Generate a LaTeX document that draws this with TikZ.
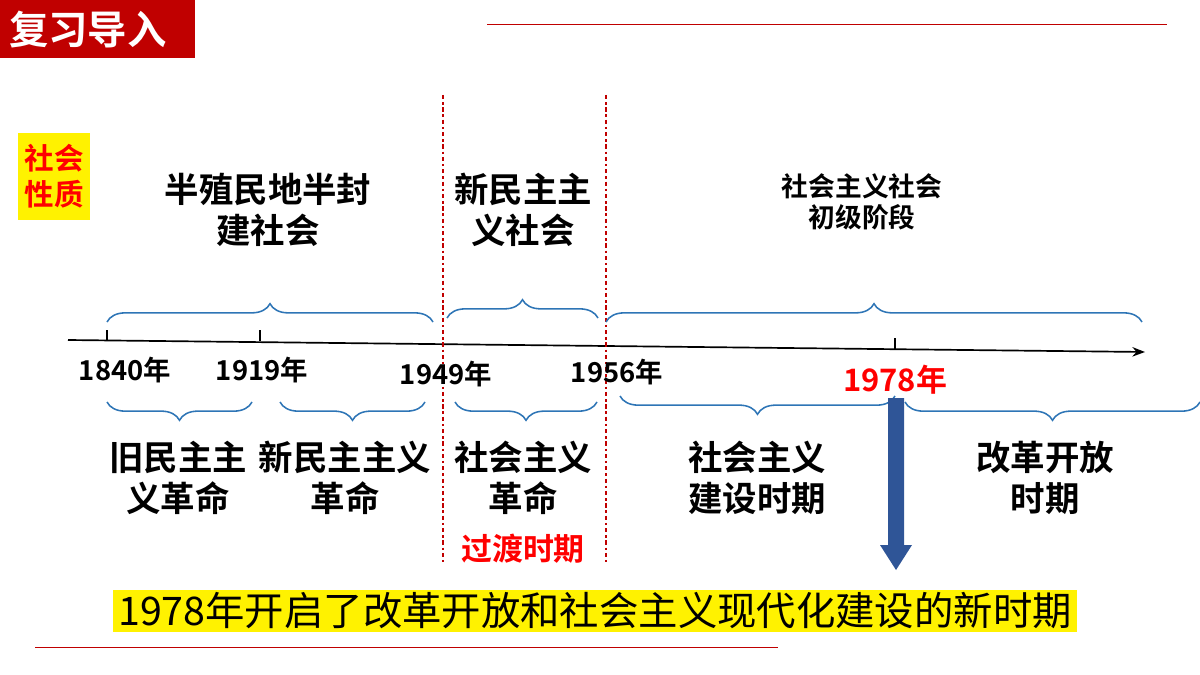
\documentclass[tikz,border=0pt]{standalone}
\usepackage{fontspec}
\setmainfont{Liberation Sans}
\newfontfamily\cjk{Noto Sans CJK SC Bold}
\newfontfamily\cjkreg{Noto Sans CJK SC}
\usetikzlibrary{decorations.pathreplacing,arrows.meta}
\definecolor{titlered}{HTML}{C00000}
\definecolor{bracecol}{HTML}{2E75B6}
\definecolor{arrowblue}{HTML}{2F5597}
\tikzset{
  big/.style={font=\cjk\fontsize{24.5}{29}\selectfont, align=center},
  mid/.style={font=\cjk\fontsize{19}{22}\selectfont, align=center},
  yearlab/.style={font=\cjk\fontsize{19.5}{22}\selectfont},
  upbrace/.style={draw=bracecol, line width=1.1pt, decorate, decoration={brace, amplitude=13pt}},
  downbrace/.style={draw=bracecol, line width=1.1pt, decorate, decoration={brace, mirror, amplitude=13pt}},
  divider/.style={draw=titlered, line width=1.8pt, dash dot}
}
\begin{document}
\begin{tikzpicture}[x=0.025cm, y=-0.025cm]
\useasboundingbox (0,0) rectangle (1200,675);
% title bar
\fill[titlered] (0,0) rectangle (195,58);
\node[font=\cjk\fontsize{28}{32}\selectfont, text=white] (title) at (88,30) {复习导入};
\draw[titlered, line width=0.6pt] (487,24) -- (1167,24);
\draw[titlered, line width=0.6pt] (35,647) -- (778,647);
% side label
\fill[yellow] (18,133) rectangle (90,220);
\node[font=\cjk\fontsize{21}{26}\selectfont, align=center, text=red] (nature) at (54,176) {社会\\性质};
% axis
\coordinate (a0) at (68,340);
\coordinate (a1) at (1145,352);
\draw[line width=1.2pt, -{Stealth[length=9pt]}] (a0) -- (a1);
\foreach \x/\y in {107/330, 260/330, 895/338}
  \draw[line width=1.2pt] (\x,\y) -- (\x,\y+11);
% dividers
\draw[divider] (443,95) -- (443,565);
\draw[divider] (606,95) -- (606,565);
% years
\node[yearlab] (y1840) at (125,370) {1840年};
\node[yearlab] (y1919) at (262,370) {1919年};
\node[yearlab] (y1949) at (446,374) {1949年};
\node[yearlab] (y1956) at (617,372) {1956年};
\node[yearlab, text=red, font=\cjk\fontsize{22}{25}\selectfont] (y1978) at (895,380) {1978年};
% braces above
\draw[upbrace] (107,322) -- (433,322);
\draw[upbrace] (447,318) -- (598,318);
\draw[upbrace] (606,322) -- (1142,322);
% braces below
\draw[downbrace] (107,402) -- (252,402);
\draw[downbrace] (280,402) -- (425,402);
\draw[downbrace] (455,402) -- (597,402);
\draw[downbrace] (620,396) -- (895,396);
\draw[downbrace] (905,402) -- (1200,402);
% top labels
\node[big] (semi) at (268,210) {半殖民地半封\\建社会};
\node[big] (newdem) at (523,210) {新民主主\\义社会};
\node[mid] (prim) at (862,202) {社会主义社会\\初级阶段};
% bottom labels
\node[big] (oldrev) at (178,478) {旧民主主\\义革命};
\node[big] (newrev) at (345,478) {新民主主义\\革命};
\node[big] (socrev) at (523,478) {社会主义\\革命};
\node[big] (build) at (757,478) {社会主义\\建设时期};
\node[big] (reform) at (1045,478) {改革开放\\时期};
\node[text=red, font=\cjk\fontsize{22}{25}\selectfont] (trans) at (523,549) {过渡时期};
% down arrow
\fill[arrowblue] (888,398) -- (904,398) -- (904,545) -- (912,545) -- (896,570) -- (880,545) -- (888,545) -- cycle;
% banner
\fill[yellow] (113,590) rectangle (1077,632);
\node[font=\cjkreg\fontsize{28}{31}\selectfont] (banner) at (595,611) {1978年开启了改革开放和社会主义现代化建设的新时期};
\end{tikzpicture}
\end{document}
